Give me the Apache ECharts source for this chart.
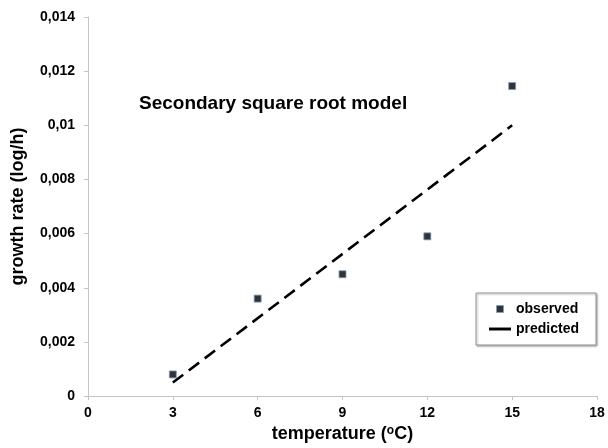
<!DOCTYPE html>
<html>
<head>
<meta charset="utf-8">
<script src="https://cdn.jsdelivr.net/npm/echarts@6/dist/echarts.min.js"></script>
<style>
  html, body { margin: 0; padding: 0; background: #fff; }
  #chart { width: 608px; height: 448px; }
</style>
</head>
<body>
<div id="chart"></div>
<script>
const temperature = [3, 6, 9, 12, 15];
const observed = [0.0008, 0.0036, 0.0045, 0.0059, 0.01145];
const predictedX = [3, 15];
const predictedY = [0.0005, 0.0100];

const font = "Arial, 'Liberation Sans', sans-serif";
const axisGray = "#c4c4c4";

const chart = echarts.init(document.getElementById("chart"));

chart.setOption({
  animation: false,
  textStyle: { fontFamily: font },
  title: {
    text: "Secondary square root model",
    left: 134,
    top: 89,
    textStyle: { fontSize: 19, fontWeight: "bold", color: "#000", fontFamily: font }
  },
  legend: {
    orient: "vertical",
    left: 476,
    top: 293,
    padding: [9, 17, 9, 13],
    itemWidth: 22,
    itemHeight: 7,
    itemGap: 6,
    borderColor: "#999",
    borderWidth: 1,
    shadowColor: "rgba(0,0,0,0.35)",
    shadowBlur: 2,
    shadowOffsetX: 1,
    shadowOffsetY: 1,
    backgroundColor: "#fff",
    textStyle: { fontSize: 14, fontWeight: "bold", color: "#000", fontFamily: font },
    data: [
      { name: "observed", icon: "path://M0,0h10v10h-10z", itemStyle: { color: "#000", borderColor: "#7a9cc6", borderWidth: 1 } },
      { name: "predicted", icon: "path://M0,0h30v4h-30z", itemStyle: { color: "#000" } }
    ]
  },
  grid: { left: 88, right: 11, top: 17, bottom: 51 },
  xAxis: {
    type: "value",
    min: 0,
    max: 18,
    interval: 3,
    name: "temperature ({sup|o}C)",
    nameLocation: "middle",
    nameGap: 28,
    nameTextStyle: {
      fontSize: 18, fontWeight: "bold", color: "#000", fontFamily: font,
      rich: {
        sup: { fontSize: 12, fontWeight: "bold", color: "#000", fontFamily: font, verticalAlign: "top", padding: [0, 0, 6, 0] }
      }
    },
    axisLine: { show: true, lineStyle: { color: axisGray, width: 1 } },
    axisTick: { show: true, length: 4, lineStyle: { color: axisGray } },
    axisLabel: { fontSize: 14, fontWeight: "bold", color: "#000", margin: 10 },
    splitLine: { show: false }
  },
  yAxis: {
    type: "value",
    min: 0,
    max: 0.014,
    interval: 0.002,
    name: "growth rate (log/h)",
    nameLocation: "middle",
    nameGap: 61,
    nameTextStyle: { fontSize: 18, fontWeight: "bold", color: "#000", fontFamily: font },
    axisLine: { show: true, lineStyle: { color: axisGray, width: 1 } },
    axisTick: { show: true, length: 4, lineStyle: { color: axisGray } },
    axisLabel: {
      fontSize: 14, fontWeight: "bold", color: "#000", margin: 13,
      formatter: v => String(parseFloat(v.toFixed(3))).replace(".", ",")
    },
    splitLine: { show: false }
  },
  series: [
    {
      name: "predicted",
      type: "line",
      data: predictedX.map((x, i) => [x, predictedY[i]]),
      showSymbol: false,
      symbol: "none",
      lineStyle: { color: "#000", width: 2.6, type: [13, 7] },
      itemStyle: { color: "#000" },
      z: 2
    },
    {
      name: "observed",
      type: "scatter",
      data: temperature.map((x, i) => [x, observed[i]]),
      symbol: "rect",
      symbolSize: 7,
      itemStyle: { color: "#000", borderColor: "#7a9cc6", borderWidth: 1 },
      z: 3
    }
  ]
});
</script>
</body>
</html>
